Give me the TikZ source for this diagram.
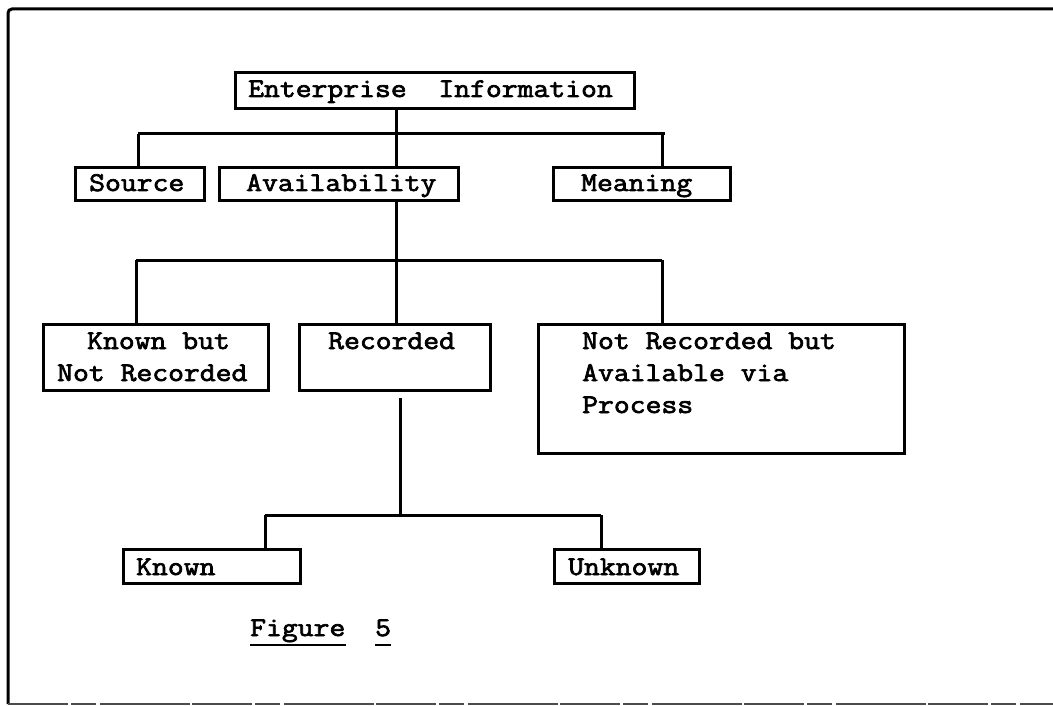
\documentclass[tikz,border=0pt]{standalone}
\usepackage{fontspec}
\newfontfamily\typefont{Latin Modern Mono}[FakeBold=2.6, FakeStretch=1.14, WordSpace={1,0,0}]
\begin{document}
\begin{tikzpicture}[x=1pt,y=-1pt,
  box/.style={draw, line width=3pt, inner sep=0pt, anchor=north west},
  lbl/.style={inner sep=0pt, anchor=base west, font=\typefont\fontsize{27}{33}\selectfont},
  wire/.style={line width=3pt},
  uline/.style={line width=2.4pt}]
\useasboundingbox (0,0) rectangle (1053,706);

% page frame (open on the right)
\draw[line width=3pt, rounded corners=4pt] (1053,9) -- (8,9) -- (8,704);
\draw[line width=1.3pt, black!70, dash pattern=on 60pt off 3pt on 25pt off 4pt on 90pt off 2pt]
  (8,704) -- (1053,704);

% boxes
\node[box, minimum width=399pt, minimum height=36pt] (ei) at (234,71) {};
\node[box, minimum width=129pt, minimum height=33pt] (src) at (74,166) {};
\node[box, minimum width=239pt, minimum height=33pt] (avl) at (218,166) {};
\node[box, minimum width=177pt, minimum height=33pt] (mng) at (552,166) {};
\node[box, minimum width=225pt, minimum height=66pt] (kbnr) at (42,323) {};
\node[box, minimum width=191pt, minimum height=66pt] (rec) at (298,323) {};
\node[box, minimum width=366pt, minimum height=129pt] (nrav) at (537,323) {};
\node[box, minimum width=177pt, minimum height=34pt] (kn) at (122,548) {};
\node[box, minimum width=145pt, minimum height=34pt] (unk) at (553,548) {};

% texts
\node[lbl] (ei-t) at (248,97) {Enterprise\ \ Information};
\node[lbl] (src-t) at (89,191) {Source};
\node[lbl] (avl-t) at (246,191) {Availability};
\node[lbl] (mng-t) at (581,191) {Meaning};
\node[lbl] (kbnr-t1) at (87,349) {Known but};
\node[lbl] (kbnr-t2) at (57,381) {Not Recorded};
\node[lbl] (rec-t) at (328,349) {Recorded};
\node[lbl] (nrav-t1) at (582,349) {Not Recorded but};
\node[lbl] (nrav-t2) at (582,381) {Available via};
\node[lbl] (nrav-t3) at (582,413) {Process};
\node[lbl] (kn-t) at (136,575) {Known};
\node[lbl] (unk-t) at (568,575) {Unknown};
\node[lbl] (fig-w) at (250,636) {Figure};
\node[lbl] (fig-n) at (375,636) {5};
\draw[uline] (fig-w.base west |- 0,645) -- (fig-w.base east |- 0,645);
\draw[uline] (fig-n.base west |- 0,645) -- (fig-n.base east |- 0,645);

% junctions of the tree
\coordinate (b1) at (396,134);
\coordinate (b1l) at (138,134);
\coordinate (b1r) at (665,134);
\coordinate (b2) at (396,260);
\coordinate (b2l) at (136,260);
\coordinate (b2r) at (662,260);
\coordinate (b3) at (400,515);
\coordinate (b3l) at (265,515);
\coordinate (b3r) at (601,515);

% first level
\draw[wire] (ei.south -| b1) -- (avl.north -| b1);
\draw[wire] (b1l) -- (b1r);
\draw[wire] (b1l) -- (src.north -| b1l);
\draw[wire] (662,134) -- (mng.north -| 662,0);

% second level
\draw[wire] (avl.south -| b2) -- (b2);
\draw[wire] (b2l) -- (b2r);
\draw[wire] (b2l) -- (kbnr.north -| b2l);
\draw[wire] (b2) -- (rec.north -| b2);
\draw[wire] (b2r) -- (nrav.north -| b2r);

% third level
\draw[wire] ([yshift=-6pt]rec.south -| b3) -- (b3);
\draw[wire] (b3l) -- (b3r);
\draw[wire] (b3l) -- (kn.north -| b3l);
\draw[wire] (b3r) -- (unk.north -| b3r);
\end{tikzpicture}
\end{document}
